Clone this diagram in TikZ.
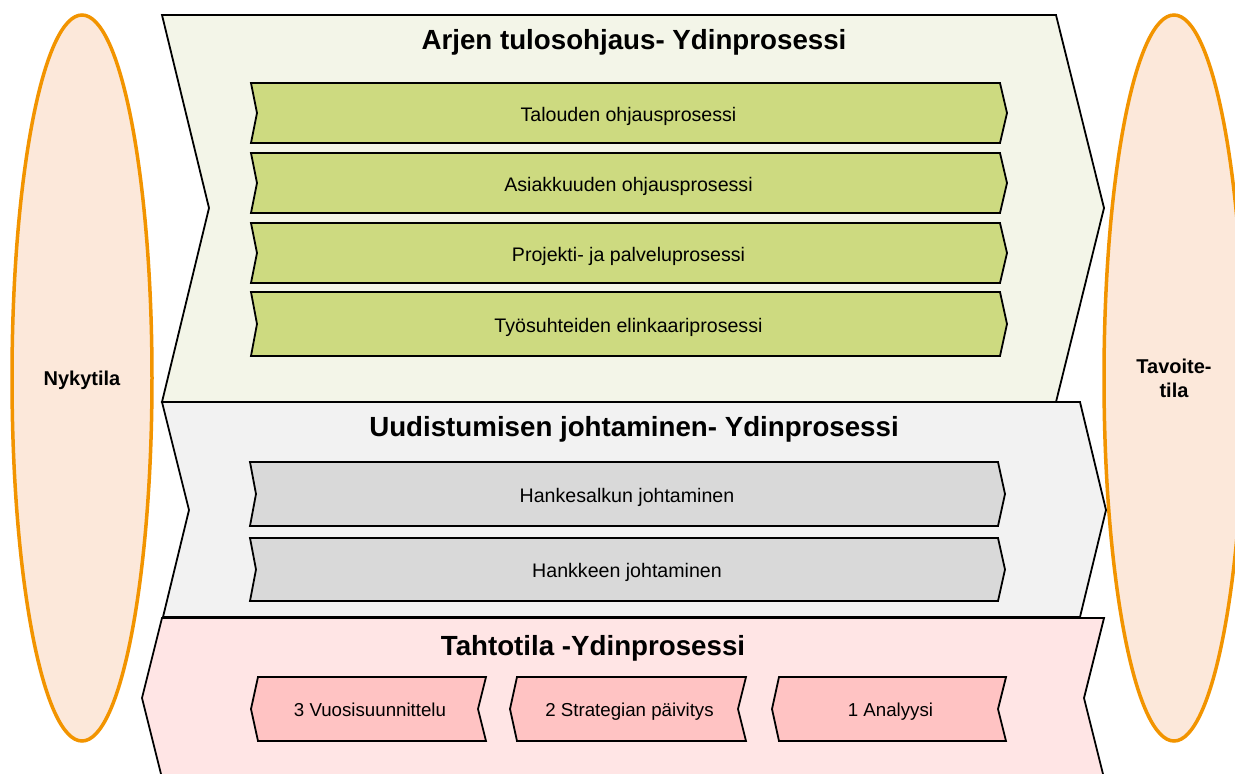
\documentclass[tikz,border=0pt]{standalone}
\usepackage{fontspec}
\setmainfont{Liberation Sans}
\definecolor{arjenbg}{RGB}{243,245,232}
\definecolor{arjenbar}{RGB}{205,218,128}
\definecolor{uusbg}{RGB}{242,242,242}
\definecolor{uusbar}{RGB}{217,217,217}
\definecolor{tahtobg}{RGB}{255,229,229}
\definecolor{tahtobar}{RGB}{255,195,195}
\definecolor{tilafill}{RGB}{252,232,218}
\definecolor{tilaline}{RGB}{242,148,0}

% bar pointing right: style, name, x left, x right, y top, y bottom, label
\newcommand{\procbar}[7]{%
  \draw[#1] (#3,#5) -- (#4,#5) -- ({#4+7},{(#5+#6)/2}) -- (#4,#6) -- (#3,#6)
    -- ({#3+6},{(#5+#6)/2}) -- cycle;
  \node[bartext] (#2) at ({(#3+#4)/2+3},{(#5+#6)/2+8}) {#7};
}
% bar pointing left: style, name, x left, x right, y top, y bottom, label
\newcommand{\backbar}[7]{%
  \draw[#1] (#3,#5) -- (#4,#5) -- ({#4-8},{(#5+#6)/2}) -- (#4,#6) -- (#3,#6)
    -- ({#3-7},{(#5+#6)/2}) -- cycle;
  \node[bartext,font=\fontsize{18.7}{22}\selectfont] (#2) at ({(#3+#4)/2-2},{(#5+#6)/2+7}) {#7};
}

\begin{document}
\begin{tikzpicture}[x=1pt,y=-1pt,
  outline/.style={draw=black,line width=1.8pt,line join=miter},
  greenbar/.style={outline,fill=arjenbar},
  graybar/.style={outline,fill=uusbar},
  pinkbar/.style={outline,fill=tahtobar},
  bartext/.style={anchor=base,inner sep=0pt,font=\fontsize{19.6}{23}\selectfont},
  titletext/.style={anchor=base,inner sep=0pt,font=\fontsize{27.7}{32}\selectfont\bfseries},
  tila/.style={draw=tilaline,fill=tilafill,line width=3.5pt},
  tilatext/.style={align=center,inner sep=0pt,font=\fontsize{20}{24}\selectfont\bfseries}]
\useasboundingbox (0,0) rectangle (1235,774);
\clip (0,0) rectangle (1235,774);

% Arjen tulosohjaus core process
\draw[outline,fill=arjenbg] (162,15) -- (1056,15) -- (1104,208) -- (1056,402)
  -- (162,402) -- (209,208) -- cycle;
\node[titletext] (arjen) at (634,49) {Arjen tulosohjaus- Ydinprosessi};
\procbar{greenbar}{talous}{251}{1000}{83}{143}{Talouden ohjausprosessi}
\procbar{greenbar}{asiakas}{251}{1000}{153}{213}{Asiakkuuden ohjausprosessi}
\procbar{greenbar}{projekti}{251}{1000}{223}{283}{Projekti- ja palveluprosessi}
\procbar{greenbar}{tyosuhde}{251}{1000}{292}{356}{Työsuhteiden elinkaariprosessi}

% Uudistumisen johtaminen core process
\draw[outline,fill=uusbg] (162,402) -- (1080,402) -- (1106,510) -- (1080,617)
  -- (163,617) -- (189,510) -- cycle;
\node[titletext] (uudistus) at (634,436) {Uudistumisen johtaminen- Ydinprosessi};
\procbar{graybar}{hankesalkku}{250}{998}{462}{526}{Hankesalkun johtaminen}
\procbar{graybar}{hanke}{250}{998}{538}{601}{Hankkeen johtaminen}

% Tahtotila core process, pointing back to the left
\draw[outline,fill=tahtobg] (162,618) -- (1104,618) -- (1084,698) -- (1104,778)
  -- (162,778) -- (142,698) -- cycle;
\node[titletext] (tahtotila) at (593,655) {Tahtotila -Ydinprosessi};
\backbar{pinkbar}{vuosi}{258}{486}{677}{741}{3 Vuosisuunnittelu}
\backbar{pinkbar}{strategia}{517}{746}{677}{741}{2 Strategian päivitys}
\backbar{pinkbar}{analyysi}{779}{1006}{677}{741}{1 Analyysi}

% current and target states
\draw[tila] (82,378) ellipse [x radius=70, y radius=363];
\node[tilatext] (nyky) at (82,380) {Nykytila};
\draw[tila] (1174,378) ellipse [x radius=70, y radius=363];
\node[tilatext] (tavoite) at (1174,378) {Tavoite-\\tila};
\end{tikzpicture}
\end{document}
